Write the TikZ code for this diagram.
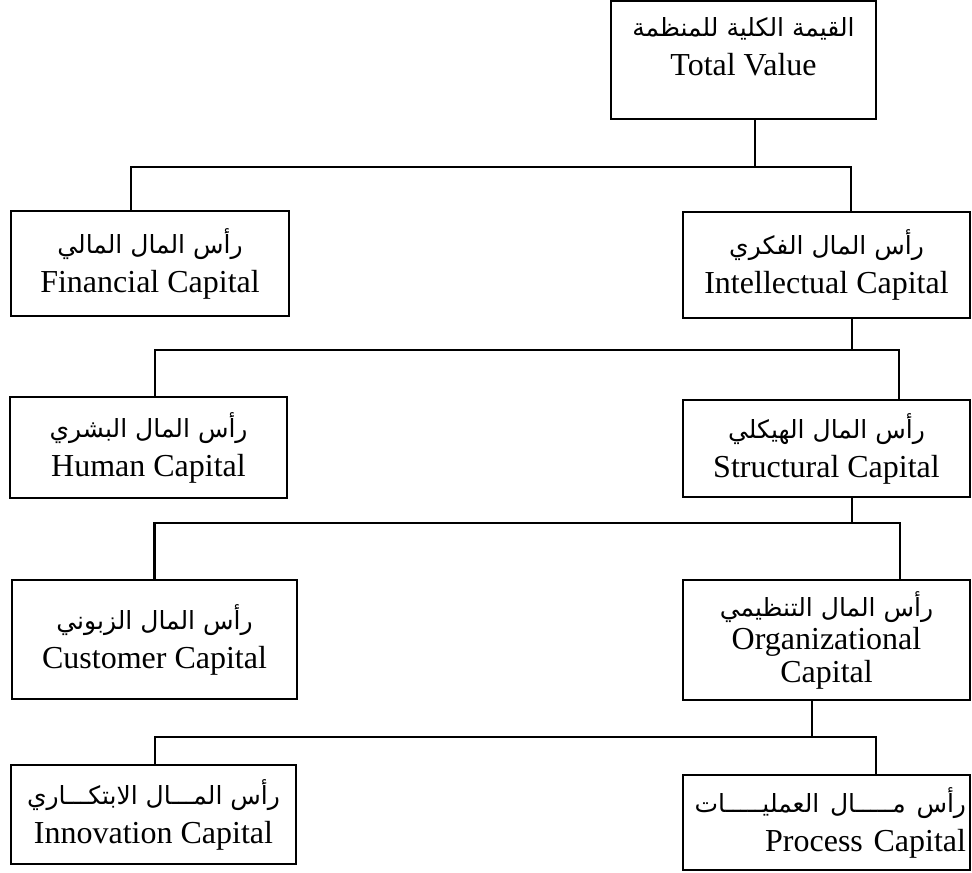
\documentclass[tikz,border=0pt]{standalone}
\usepackage{fontspec}
\setmainfont{Liberation Serif}
\newfontfamily\arabicfont[Script=Arabic]{DejaVu Sans}
\TeXXeTstate=1
\usepackage{tikz}
\newcommand{\arsize}{\arabicfont\fontsize{12.5}{19.5}\selectfont}

\begin{document}
\begin{tikzpicture}[
		x=0.5pt, y=-0.5pt,
		line width=1.1pt,
		every node/.style={font=\fontsize{16}{19.5}\selectfont},
		box/.style={draw, rectangle, align=center, inner sep=2pt},
		leftbox/.style={box, minimum width=140pt},
		rightbox/.style={box, minimum width=143.5pt}
		]
	\useasboundingbox (0,0) rectangle (972,872);

	% Total value
	\node[box, minimum width=132.5pt, minimum height=59pt,
		label={[anchor=north, align=center, yshift=-5pt]north:{{\arsize\beginR القيمة الكلية للمنظمة\endR}\\Total Value}}]
		(total) at (743.5,60) {};

	% Level 1
	\node[leftbox, minimum width=139pt, minimum height=52.5pt] (fin) at (150,263.5)
		{{\arsize\beginR رأس المال المالي\endR}\\Financial Capital};
	\node[rightbox, minimum height=53pt] (int) at (826.5,265)
		{{\arsize\beginR رأس المال الفكري\endR}\\Intellectual Capital};

	% Level 2
	\node[leftbox, minimum width=138.5pt, minimum height=50.5pt] (hum) at (148.5,447.5)
		{{\arsize\beginR رأس المال البشري\endR}\\Human Capital};
	\node[rightbox, minimum height=48.5pt] (str) at (826.5,448.5)
		{{\arsize\beginR رأس المال الهيكلي\endR}\\Structural Capital};

	% Level 3
	\node[leftbox, minimum width=142.5pt, minimum height=59.5pt] (cus) at (154.5,639.5)
		{{\arsize\beginR رأس المال الزبوني\endR}\\Customer Capital};
	\node[rightbox, minimum height=60pt,
		font=\fontsize{16}{16.5}\selectfont] (org) at (826.5,640)
		{{\arsize\beginR رأس المال التنظيمي\endR}\\Organizational\\Capital};

	% Level 4
	\node[leftbox, minimum width=142.5pt, minimum height=49.5pt] (inn) at (153.5,814.5)
		{{\arsize\beginR رأس المـــال الابتكـــاري\endR}\\Innovation Capital};
	\node[box, align=right, text width=139.5pt, minimum height=47.5pt] (pro) at (826.5,822.5)
		{\mbox{\arsize\beginR رأس مـــــال العمليـــــات\endR}\\\mbox{Process Capital}};

	% Junctions
	\coordinate (j1) at (755,167);
	\coordinate (j2) at (852,350);
	\coordinate (j3) at (852,523);
	\coordinate (j4) at (812,737);

	% Connectors
	\draw (total.south -| j1) -- (j1);
	\draw ([xshift=-9.5pt]fin.north) |- (j1) -| ([xshift=12.25pt]int.north);

	\draw (int.south -| j2) -- (j2);
	\draw ([xshift=3.25pt]hum.north) |- (j2) -| ([xshift=36.25pt]str.north);

	\draw (str.south -| j3) -- (j3);
	\draw (cus.north) |- (j3) -| ([xshift=36.75pt]org.north);

	\draw (org.south -| j4) -- (j4);
	\draw ([xshift=0.75pt]inn.north) |- (j4) -| ([xshift=24.75pt]pro.north);

\end{tikzpicture}
\end{document}
